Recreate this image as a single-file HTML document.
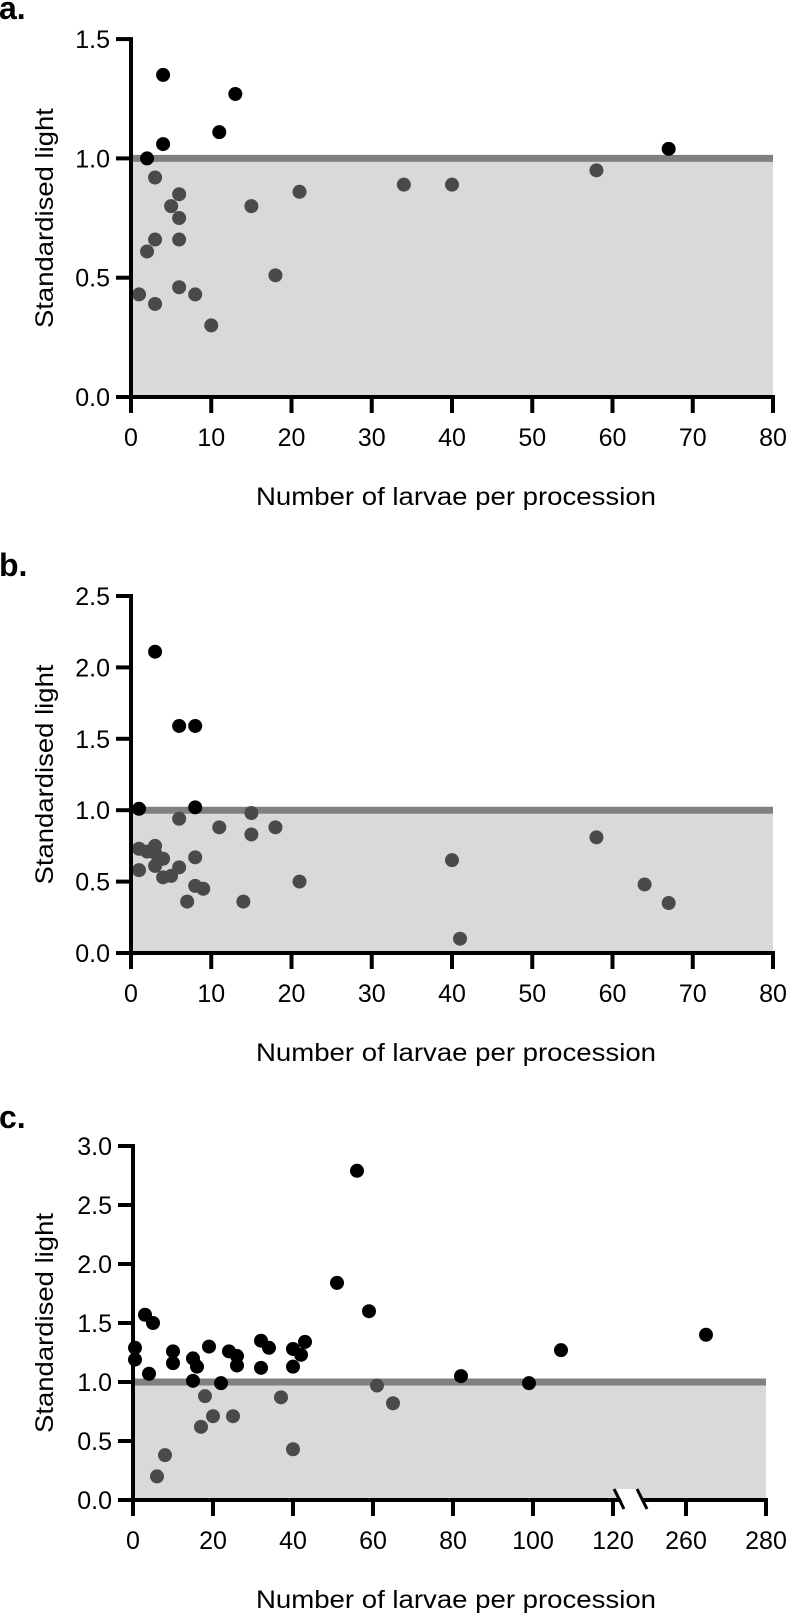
<!DOCTYPE html>
<html><head><meta charset="utf-8"><style>
html,body{margin:0;padding:0;background:#fff;}
svg{display:block;font-family:"Liberation Sans",Arial,sans-serif;}
</style></head><body>
<svg id="fig" width="787" height="1613" viewBox="0 0 787 1613" xmlns="http://www.w3.org/2000/svg"></svg>
<script>
// Panel a data
const aX = [4,13,11,4,2,67, 3,6,5,6,3,6,2,1,3,6,8,10,15,18,21,34,40,58];
const aY = [1.35,1.27,1.11,1.06,1.00,1.04, 0.92,0.85,0.80,0.75,0.66,0.66,0.61,0.43,0.39,0.46,0.43,0.30,0.80,0.51,0.86,0.89,0.89,0.95];
const aAbove = [1,1,1,1,1,1, 0,0,0,0,0,0,0,0,0,0,0,0,0,0,0,0,0,0];
// Panel b data
const bX = [3,6,8,1,8, 6,15,11,15,18,1,2,3,3,4,3,1,6,8,4,5,8,9,21,40,58,64,67,41,7,14];
const bY = [2.11,1.59,1.59,1.01,1.02, 0.94,0.98,0.88,0.83,0.88,0.73,0.71,0.75,0.70,0.66,0.61,0.58,0.60,0.67,0.53,0.54,0.47,0.45,0.50,0.65,0.81,0.48,0.35,0.10,0.36,0.36];
const bAbove = [1,1,1,1,1, 0,0,0,0,0,0,0,0,0,0,0,0,0,0,0,0,0,0,0,0,0,0,0,0,0,0];
// Panel c data
const cX = [0.5,0.5,3,5,4,10,10,15,16,15,19,22,24,26,26,32,34,32,40,42,43,40,51,56,59,82,99,107,265, 61,65,18,20,25,17,8,6,37,40];
const cY = [1.29,1.19,1.57,1.50,1.07,1.26,1.16,1.20,1.13,1.01,1.30,0.99,1.26,1.22,1.14,1.35,1.29,1.12,1.28,1.23,1.34,1.13,1.84,2.79,1.60,1.05,0.99,1.27,1.40, 0.97,0.82,0.88,0.71,0.71,0.62,0.38,0.20,0.87,0.43];
const cAbove = [1,1,1,1,1,1,1,1,1,1,1,1,1,1,1,1,1,1,1,1,1,1,1,1,1,1,1,1,1, 0,0,0,0,0,0,0,0,0,0];
// Tick labels
const abXTicks = [0,10,20,30,40,50,60,70,80];
const aYTicks = [0.0,0.5,1.0,1.5];
const bYTicks = [0.0,0.5,1.0,1.5,2.0,2.5];
const cXTicks = [0,20,40,60,80,100,120,260,280];
const cYTicks = [0.0,0.5,1.0,1.5,2.0,2.5,3.0];

const NS = "http://www.w3.org/2000/svg";
const svg = document.getElementById('fig');
function mk(tag, attrs, parent){
  const e = document.createElementNS(NS, tag);
  for (const k in attrs) e.setAttribute(k, attrs[k]);
  (parent||svg).appendChild(e);
  return e;
}

function panel(o){
  const g = mk('g', {});
  
  
  const x0 = o.xl, x1 = o.xr;
  const yS = v => o.y0 - v * o.ypx;
  const band = mk('rect', {x:x0, y:yS(1), width:x1-x0, height:o.y0-yS(1), fill:'#d9d9d9'}, g);
  
  
  const ref = mk('line', {x1:x0, x2:x1, y1:yS(1), y2:yS(1), stroke:'#808080', 'stroke-width':7}, g);
  
  
  for (let i = 0; i < o.xs.length; i++){
    const c = mk('circle', {cx:o.xS(o.xs[i]), cy:yS(o.ys[i]), r:7, fill:o.ab[i] ? '#000' : '#4a4a4a'}, g);
    
    
  }
  const ya = mk('line', {x1:x0, x2:x0, y1:yS(o.ymax)-2, y2:o.y0+2, stroke:'#000', 'stroke-width':4}, g);
  
  
  const xa = mk('line', {x1:x0-2, x2:x1+2, y1:o.y0, y2:o.y0, stroke:'#000', 'stroke-width':4}, g);
  
  
  for (const t of o.yt){
    mk('line', {x1:x0-15, x2:x0, y1:yS(t), y2:yS(t), stroke:'#000', 'stroke-width':4}, g);
    const tx = mk('text', {x:x0-21, y:yS(t)+9, 'font-size':25, 'text-anchor':'end', fill:'#000'}, g);
    tx.textContent = t.toFixed(1);
    
    
  }
  for (const t of o.xt){
    const px = o.xS(t);
    mk('line', {x1:px, x2:px, y1:o.y0, y2:o.y0+16, stroke:'#000', 'stroke-width':4}, g);
    const tx = mk('text', {x:px, y:o.y0+49, 'font-size':25, 'text-anchor':'middle', fill:'#000'}, g);
    tx.textContent = String(t);
    
    
  }
  const xt = mk('text', {x:456, y:o.y0+108, 'font-size':25, 'text-anchor':'middle', textLength:400, lengthAdjust:'spacingAndGlyphs'}, g);
  xt.textContent = 'Number of larvae per procession';
  
  
  const cy = (yS(o.ymax) + o.y0) / 2;
  const yt = mk('text', {x:0, y:0, 'font-size':25, 'text-anchor':'middle', textLength:220, lengthAdjust:'spacingAndGlyphs', transform:`translate(53,${cy}) rotate(-90)`}, g);
  yt.textContent = 'Standardised light';
  
  
  const lb = mk('text', {x:-1, y:o.labY, 'font-size':32, 'font-weight':'bold'}, g);
  lb.textContent = o.id + '.';
  
  
  return g;
}

const abScale = v => 131 + v * 8.025;
panel({id:'a', xs:aX, ys:aY, ab:aAbove, xl:131, xr:773, xS:abScale, y0:397, ypx:238.6, ymax:1.5, yt:aYTicks, xt:abXTicks, labY:19});
panel({id:'b', xs:bX, ys:bY, ab:bAbove, xl:131, xr:773, xS:abScale, y0:953, ypx:142.8, ymax:2.5, yt:bYTicks, xt:abXTicks, labY:576});
const cScale = v => v <= 120 ? 133 + v * 4.0 : 686 + (v - 260) * 4.0;
const gc = panel({id:'c', xs:cX, ys:cY, ab:cAbove, xl:133, xr:766, xS:cScale, y0:1500, ypx:118, ymax:3.0, yt:cYTicks, xt:cXTicks, labY:1128});
const br = mk('g', {}, gc);


mk('polygon', {points:'617,1489 637,1489 645,1509 625,1509', fill:'#fff'}, br);
mk('line', {x1:614, y1:1489, x2:624, y2:1509, stroke:'#000', 'stroke-width':3}, br);
mk('line', {x1:637, y1:1489, x2:647, y2:1509, stroke:'#000', 'stroke-width':3}, br);
</script>
</body></html>
